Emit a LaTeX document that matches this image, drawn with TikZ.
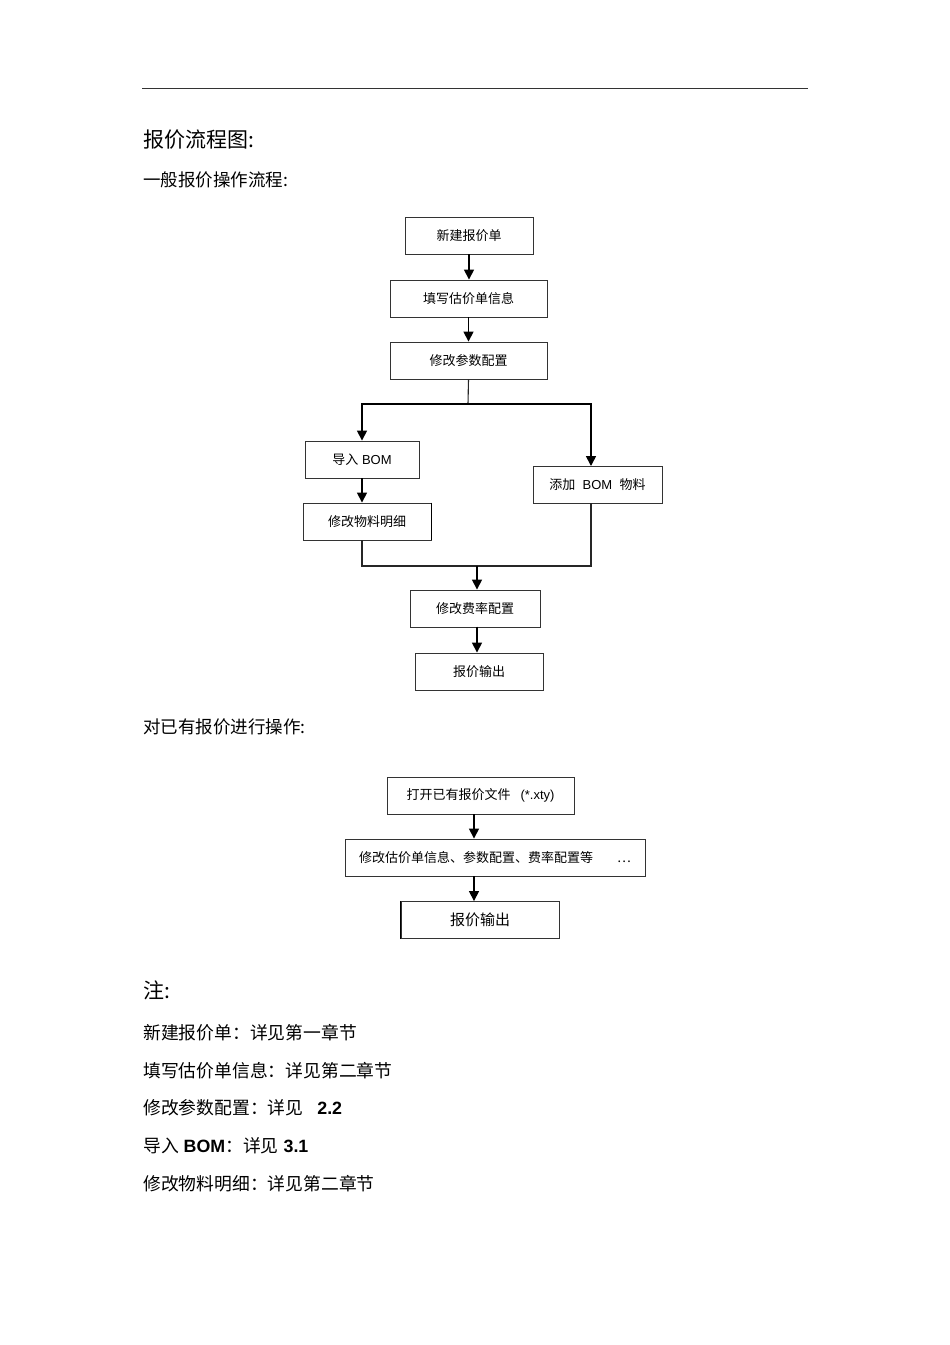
\documentclass[tikz,border=0pt]{standalone}
\usepackage{fontspec}
\setmainfont{Liberation Sans}
\newfontfamily\cjk{Noto Sans CJK SC}
\newcommand\zh[1]{{\cjk #1}}
\usetikzlibrary{arrows.meta,calc}
\begin{document}
\begin{tikzpicture}[x=1pt,y=-1pt,
  box/.style={draw=black!80,line width=0.9pt,inner sep=0pt,minimum height=37pt,font=\fontsize{13}{13}\selectfont},
  arr/.style={line width=1.6pt,-{Triangle[length=10pt,width=10pt]}},
  conn/.style={line width=1.1pt,black!85},
  head/.style={anchor=west,inner sep=0pt,font=\cjk\fontsize{21}{21}\selectfont},
  sub/.style={anchor=west,inner sep=0pt,font=\cjk\fontsize{17.5}{17.5}\selectfont},
  note/.style={anchor=west,inner sep=0pt,font=\fontsize{17.8}{17.8}\selectfont}]
\useasboundingbox (0,0) rectangle (950,1345);
\fill[white] (0,0) rectangle (950,1345);
\draw[black!80,line width=0.8pt] (142,88) -- (808,88);

\node[head] (t1) at (143,140) {报价流程图:};
\node[sub] (t2) at (143,180) {一般报价操作流程:};
\node[sub] (t3) at (143,727) {对已有报价进行操作:};
\node[head] (t4) at (143,990) {注:};

% flow 1
\node[box,minimum width=128pt] (n1) at (469,235.5) {\zh{新建报价单}};
\node[box,minimum width=157pt] (n2) at (468.5,298.5) {\zh{填写估价单信息}};
\node[box,minimum width=157pt] (n3) at (468.5,360.5) {\zh{修改参数配置}};
\node[box,minimum width=114pt] (n4) at (362,459.5) {\zh{导入}~BOM};
\node[box,minimum width=128pt] (n5) at (367,521.5) {\zh{修改物料明细}};
\node[box,minimum width=129pt] (n6) at (597.5,484.5) {\zh{添加}~~BOM~~\zh{物料}};
\node[box,minimum width=130pt] (n7) at (475,608.5) {\zh{修改费率配置}};
\node[box,minimum width=128pt] (n8) at (479,671.5) {\zh{报价输出}};
\draw[line width=1.8pt] (n5.north east) -- (n5.south east);

\coordinate (br) at (468,404);
\coordinate (rin) at (591,466);
\coordinate (rout) at (591,503);
\coordinate (mg) at (477,566);

\draw[arr] (n1.south) -- (n1.south |- n2.north);
\draw[arr] (n2.south) -- (n2.south |- n3.north);
\draw[conn] (n3.south) -- (br);
\draw[arr] (br) -| (n4.north);
\draw[arr] (br) -| (rin);
\draw[arr] (n4.south) -- (n4.south |- n5.north);
\draw[conn] (n4.south |- n5.south) |- (mg) -| (rout);
\draw[arr] (mg) -- (mg |- n7.north);
\draw[arr] (n8.north -| mg) ++(0,-26) -- (n8.north -| mg);

% flow 2
\node[box,minimum width=187pt] (m1) at (480.5,795.5) {\zh{打开已有报价文件}\hspace{10pt}(*.xty)};
\node[box,minimum width=300pt] (m2) at (495,857.5) {\zh{修改估价单信息、参数配置、费率配置等}\hspace{24pt}\zh{…}};
\node[box,minimum width=158pt,font=\fontsize{15}{15}\selectfont] (m3) at (480,920) {\zh{报价输出}};
\draw[line width=1.8pt] (m3.north west) -- (m3.south west);
\draw[arr] (m1.south -| 474,0) -- (m2.north -| 474,0);
\draw[arr] (m2.south -| 474,0) -- (m3.north -| 474,0);

% notes
\node[note] (k1) at (143,1033) {\zh{新建报价单：详见第一章节}};
\node[note] (k2) at (143,1071) {\zh{填写估价单信息：详见第二章节}};
\node[note] (k3) at (143,1108) {\zh{修改参数配置：详见}\hspace{14pt}\textbf{2.2}};
\node[note] (k4) at (143,1146) {\zh{导入}~\textbf{BOM}\zh{：详见}~\textbf{3.1}};
\node[note] (k5) at (143,1184) {\zh{修改物料明细：详见第二章节}};
\end{tikzpicture}
\end{document}
